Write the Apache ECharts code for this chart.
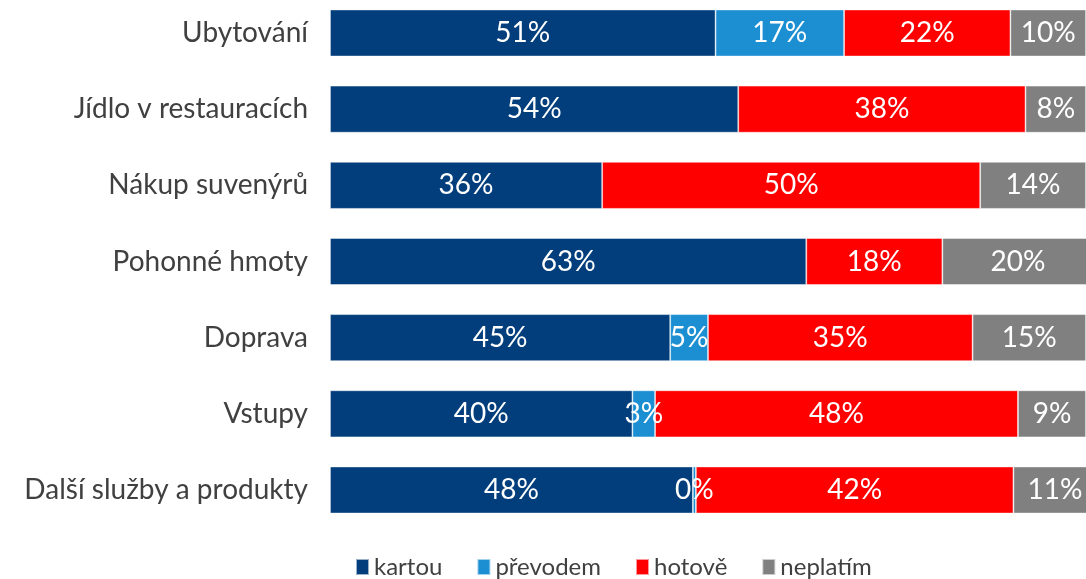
<!DOCTYPE html>
<html>
<head>
<meta charset="utf-8">
<script src="https://cdn.jsdelivr.net/npm/echarts@6/dist/echarts.min.js"></script>
<style>
  html, body { margin: 0; padding: 0; background: #fff; }
  #chart { width: 1086px; height: 579px; }
</style>
</head>
<body>
<div id="chart"></div>
<script>
var categories = ['Ubytování', 'Jídlo v restauracích', 'Nákup suvenýrů', 'Pohonné hmoty', 'Doprava', 'Vstupy', 'Další služby a produkty'];
var kartou = [51, 54, 36, 63, 45, 40, 48];
var prevodem = [17, null, null, null, 5, 3, 0.4];
var hotove = [22, 38, 50, 18, 35, 48, 42];
var neplatim = [10, 8, 14, 20, 15, 9, 11];

var font = 'Lato, "Open Sans", sans-serif';

function makeSeries(name, data, color) {
  return {
    name: name,
    type: 'bar',
    stack: 'total',
    barWidth: 47,
    clip: false,
    data: data,
    itemStyle: { color: color, borderColor: 'rgba(255,255,255,0.6)', borderWidth: 0.8 },
    label: {
      show: true,
      position: 'inside',
      color: '#fff',
      fontFamily: font,
      fontSize: 28,
      formatter: function (p) { return Math.round(p.value) + '%'; }
    }
  };
}

document.addEventListener("DOMContentLoaded", () => {
  echarts.init(document.querySelector("#chart")).setOption({
    animation: false,
    grid: { left: 330, right: -10, top: 33, height: 457 },
    legend: {
      left: 350,
      top: 550,
      icon: 'rect',
      itemWidth: 13,
      itemHeight: 16,
      itemGap: 34,
      textStyle: { fontFamily: font, fontSize: 24, color: '#404040' },
      data: ['kartou', 'převodem', 'hotově', 'neplatím']
    },
    xAxis: {
      type: 'value',
      min: 0,
      max: 100,
      show: false
    },
    yAxis: {
      type: 'category',
      inverse: true,
      boundaryGap: false,
      data: categories,
      axisLine: { show: false },
      axisTick: { show: false },
      splitLine: { show: false },
      axisLabel: { margin: 22, fontFamily: font, fontSize: 28, color: '#404040' }
    },
    series: [
      makeSeries('kartou', kartou, '#023E7B'),
      makeSeries('převodem', prevodem, '#1B8FD2'),
      makeSeries('hotově', hotove, '#FF0000'),
      makeSeries('neplatím', neplatim, '#808080')
    ]
  });
});
</script>
</body>
</html>
